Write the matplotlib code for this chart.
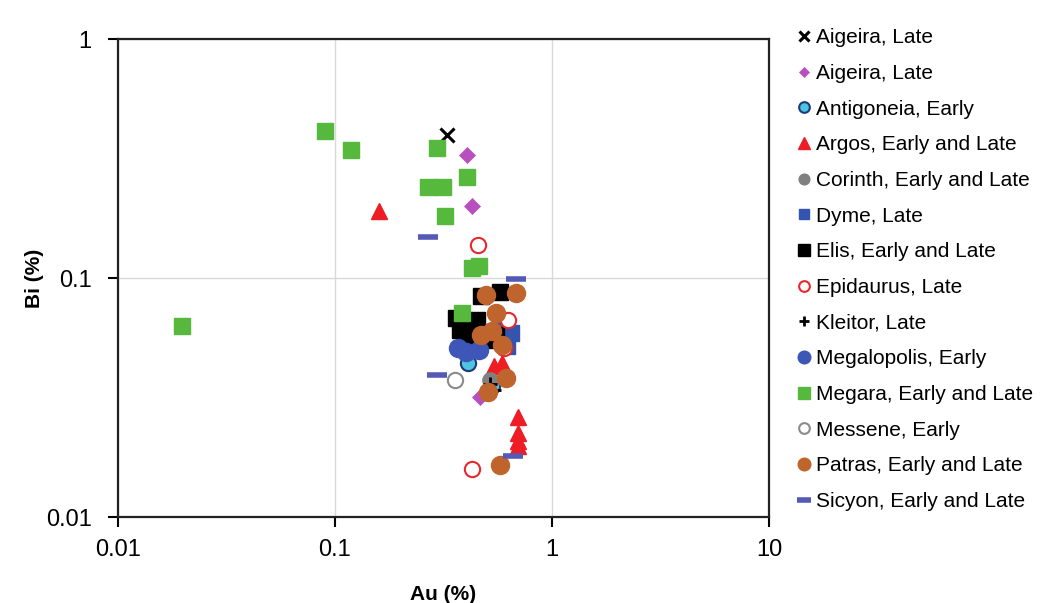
import matplotlib.pyplot as plt

plt.rcParams['font.family'] = ['Liberation Sans', 'DejaVu Sans']

# Au (%) and Bi (%), one pair of lists per group
aigeira_x_au = [0.327]
aigeira_x_bi = [0.396]
aigeira_d_au = [0.404, 0.430, 0.464]
aigeira_d_bi = [0.326, 0.201, 0.0319]
antigoneia_au = [0.41, 0.53]
antigoneia_bi = [0.0442, 0.0355]
argos_au = [0.160, 0.543, 0.591, 0.694, 0.70, 0.70, 0.70]
argos_bi = [0.190, 0.043, 0.044, 0.0263, 0.0225, 0.0208, 0.0198]
corinth_au = [0.52]
corinth_bi = [0.0375]
dyme_au = [0.573, 0.65, 0.62]
dyme_bi = [0.0626, 0.059, 0.052]
elis_au = [0.473, 0.573, 0.363, 0.45, 0.376, 0.43, 0.505, 0.40, 0.55]
elis_bi = [0.0837, 0.087, 0.0683, 0.067, 0.0608, 0.058, 0.055, 0.057, 0.0575]
epidaurus_au = [0.454, 0.430, 0.624, 0.60]
epidaurus_bi = [0.138, 0.0159, 0.067, 0.051]
kleitor_au = [0.52, 0.54]
kleitor_bi = [0.036, 0.034]
megalopolis_au = [0.367, 0.402, 0.46]
megalopolis_bi = [0.0511, 0.049, 0.050]
megara_au = [0.0897, 0.119, 0.294, 0.267, 0.313, 0.404, 0.323, 0.43, 0.46, 0.0197, 0.383]
megara_bi = [0.411, 0.343, 0.349, 0.240, 0.240, 0.264, 0.181, 0.110, 0.112, 0.0632, 0.0717]
messene_au = [0.356]
messene_bi = [0.0375]
patras_au = [0.499, 0.679, 0.555, 0.473, 0.591, 0.616, 0.505, 0.573, 0.53]
patras_bi = [0.0845, 0.0869, 0.0717, 0.058, 0.0526, 0.0383, 0.0334, 0.0165, 0.060]
sicyon_au = [0.267, 0.685, 0.294, 0.658]
sicyon_bi = [0.149, 0.0986, 0.0394, 0.018]

fig = plt.figure(figsize=(10.43, 6.03), dpi=100)
ax = fig.add_axes([0.1131, 0.1426, 0.6242, 0.7927])

ax.plot(aigeira_x_au, aigeira_x_bi, 'x', color='black', ms=10, mew=2.2, label='Aigeira, Late')
ax.plot(aigeira_d_au, aigeira_d_bi, 'D', color='#b84fbe', ms=9, mec='white', mew=0.5, label='Aigeira, Late')
ax.plot(antigoneia_au, antigoneia_bi, 'o', color='#4cc4e2', mec='#1e3a78', mew=1.5, ms=11, label='Antigoneia, Early')
ax.plot(argos_au, argos_bi, '^', color='#ee1c25', ms=12, label='Argos, Early and Late')
ax.plot(corinth_au, corinth_bi, 'o', color='#808080', ms=11, label='Corinth, Early and Late')
ax.plot(dyme_au, dyme_bi, 's', color='#3355b0', ms=11, label='Dyme, Late')
ax.plot(elis_au, elis_bi, 's', color='black', ms=12, label='Elis, Early and Late')
ax.plot(epidaurus_au, epidaurus_bi, 'o', color='white', mec='#e8282c', mew=1.5, ms=11, label='Epidaurus, Late')
ax.plot(kleitor_au, kleitor_bi, '+', color='black', ms=10, mew=2, label='Kleitor, Late')
ax.plot(megalopolis_au, megalopolis_bi, 'o', color='#3d56b8', ms=13, label='Megalopolis, Early')
ax.plot(megara_au, megara_bi, 's', color='#56b83c', ms=12, label='Megara, Early and Late')
ax.plot(messene_au, messene_bi, 'o', color='white', mec='#8a8a8a', mew=1.5, ms=11, label='Messene, Early')
ax.plot(patras_au, patras_bi, 'o', color='#c0642e', ms=13, label='Patras, Early and Late')
ax.plot(sicyon_au, sicyon_bi, '_', color='#5459b5', ms=15, mew=4, label='Sicyon, Early and Late')

ax.set_xscale('log')
ax.set_yscale('log')
ax.set_xlim(0.01, 10)
ax.set_ylim(0.01, 1)
ax.set_xticks([0.01, 0.1, 1, 10])
ax.set_xticklabels(['0.01', '0.1', '1', '10'])
ax.set_yticks([0.01, 0.1, 1])
ax.set_yticklabels(['0.01', '0.1', '1'])
ax.minorticks_off()
ax.grid(True, color='#d9d9d9', linewidth=1)
ax.set_axisbelow(True)
for s in ax.spines.values():
    s.set_linewidth(1.6)
    s.set_color('#222222')
ax.tick_params(length=7, width=1.5, labelsize=17)
ax.tick_params(axis='x', pad=9)
ax.tick_params(axis='y', pad=12)

ax.set_xlabel('Au (%)', fontsize=15, fontweight='bold', labelpad=17)
ax.set_ylabel('Bi (%)', fontsize=15, fontweight='bold', labelpad=1)

ax.legend(loc='upper left', bbox_to_anchor=(0.758, 0.967), bbox_transform=fig.transFigure,
          frameon=False, fontsize=15, markerscale=0.7, handlelength=0.5,
          handletextpad=0.3, labelspacing=0.8, borderaxespad=0)

plt.savefig('out.png', dpi=100)
